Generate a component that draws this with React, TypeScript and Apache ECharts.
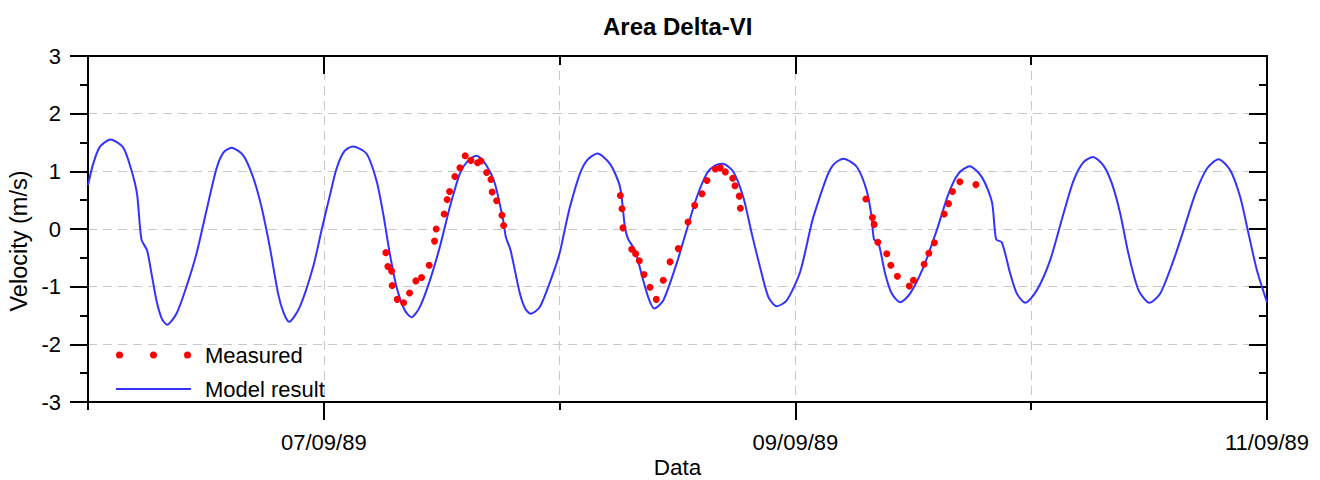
import React, { useEffect, useRef } from "react";
import * as echarts from "echarts";

// Hours since 06/09/89 00:00
const modelHours = [0.0, 0.51, 1.19, 2.28, 3.56, 4.42, 4.99, 5.44, 6.01, 6.46, 6.97, 7.5, 8.04, 9.0, 10.02, 11.04, 12.06, 13.08, 13.8, 14.6, 15.78, 16.8, 17.66, 18.5, 19.35, 19.9, 20.47, 21.56, 22.91, 23.8, 24.6, 25.3, 26.1, 26.93, 28.34, 29.36, 30.04, 30.72, 31.4, 32.24, 32.93, 33.78, 34.8, 35.81, 36.83, 37.85, 38.69, 39.54, 40.56, 41.41, 42.26, 42.53, 43.01, 43.96, 44.5, 45.05, 46.0, 47.34, 48.03, 48.54, 49.05, 50.07, 50.83, 51.84, 53.13, 54.15, 54.65, 54.99, 55.67, 56.51, 57.1, 57.63, 58.55, 59.91, 60.93, 61.96, 62.97, 63.8, 64.6, 65.69, 66.7, 67.56, 68.4, 69.25, 70.09, 71.11, 72.47, 73.49, 73.83, 75.19, 75.9, 76.88, 78.24, 79.25, 79.76, 80.0, 80.44, 81.13, 81.81, 82.66, 83.67, 85.03, 86.39, 87.58, 88.6, 89.72, 90.98, 92.0, 92.43, 93.01, 93.86, 94.54, 95.39, 96.58, 97.93, 99.29, 100.31, 101.32, 102.28, 103.36, 104.21, 105.06, 105.9, 106.92, 108.04, 109.13, 110.49, 111.51, 112.7, 113.89, 115.07, 116.26, 117.28, 118.12, 118.98, 120.0];
const modelValues = [0.76, 1.12, 1.42, 1.55, 1.42, 1.02, 0.61, -0.18, -0.37, -0.77, -1.24, -1.55, -1.66, -1.47, -1.0, -0.43, 0.32, 1.05, 1.33, 1.41, 1.28, 0.9, 0.38, -0.31, -1.12, -1.45, -1.61, -1.35, -0.66, 0.0, 0.57, 1.05, 1.35, 1.43, 1.31, 0.84, 0.27, -0.43, -1.0, -1.41, -1.53, -1.35, -0.89, -0.31, 0.38, 0.96, 1.19, 1.27, 1.1, 0.79, 0.15, -0.14, -0.37, -1.12, -1.38, -1.47, -1.35, -0.77, -0.4, 0.0, 0.38, 0.96, 1.2, 1.31, 1.13, 0.73, 0.03, -0.18, -0.37, -0.89, -1.22, -1.38, -1.24, -0.6, -0.02, 0.55, 0.96, 1.1, 1.13, 0.99, 0.55, -0.08, -0.66, -1.18, -1.34, -1.24, -0.75, -0.02, 0.21, 0.9, 1.12, 1.22, 1.08, 0.67, 0.21, -0.18, -0.23, -0.77, -1.12, -1.27, -1.12, -0.66, -0.02, 0.61, 0.96, 1.09, 0.9, 0.47, -0.18, -0.23, -0.77, -1.12, -1.28, -1.06, -0.54, 0.27, 0.84, 1.16, 1.25, 1.1, 0.79, 0.27, -0.43, -1.06, -1.28, -1.12, -0.54, -0.02, 0.61, 1.05, 1.21, 1.02, 0.55, -0.08, -0.72, -1.27];

const measuredHours = [30.32, 30.52, 30.9, 30.96, 31.47, 32.12, 32.73, 33.37, 33.95, 34.73, 35.27, 35.44, 36.25, 36.56, 36.8, 37.34, 37.85, 38.39, 38.97, 39.65, 39.99, 40.57, 41.01, 41.14, 41.59, 42.13, 42.3, 54.18, 54.35, 54.45, 55.34, 55.74, 56.11, 56.59, 57.2, 57.84, 58.55, 59.24, 60.08, 61.07, 61.75, 62.5, 63.0, 63.85, 64.36, 64.87, 65.62, 65.85, 66.29, 66.4, 79.17, 79.84, 80.01, 80.39, 81.3, 81.71, 82.38, 83.6, 84.01, 85.1, 85.58, 86.15, 87.14, 87.58, 87.99, 88.74, 90.37];
const measuredValues = [-0.41, -0.65, -0.73, -0.98, -1.22, -1.28, -1.11, -0.9, -0.84, -0.63, -0.21, 0.0, 0.26, 0.51, 0.65, 0.91, 1.06, 1.27, 1.19, 1.15, 1.18, 0.98, 0.86, 0.64, 0.49, 0.24, 0.06, 0.58, 0.35, 0.02, -0.35, -0.43, -0.55, -0.79, -1.01, -1.22, -0.89, -0.57, -0.34, 0.12, 0.41, 0.61, 0.84, 1.04, 1.06, 0.99, 0.88, 0.75, 0.57, 0.36, 0.52, 0.2, 0.08, -0.23, -0.43, -0.63, -0.82, -0.99, -0.89, -0.61, -0.42, -0.24, 0.26, 0.44, 0.65, 0.82, 0.77];

const labelHours = [24, 72, 120];
const labelTexts = ["07/09/89", "09/09/89", "11/09/89"];
const minorHours = [0, 48, 96];

const FONT = "'Liberation Sans', Arial, sans-serif";
const GRID_LINE = { show: true, lineStyle: { color: "#c8c8c8", type: [9, 6] as any, width: 1 } };
const AXIS_LINE = { show: true, onZero: false, lineStyle: { color: "#000", width: 2 } };

const dotsIcon =
  "path://M0,3.5a3.5,3.5 0 1,0 7,0a3.5,3.5 0 1,0 -7,0Z M34,3.5a3.5,3.5 0 1,0 7,0a3.5,3.5 0 1,0 -7,0Z M68,3.5a3.5,3.5 0 1,0 7,0a3.5,3.5 0 1,0 -7,0Z";
const lineIcon = "path://M0,0L70,0L70,2L0,2Z";

export default function App() {
  const ref = useRef<HTMLDivElement>(null);
  useEffect(() => {
    if (!ref.current) return;
    const chart = echarts.init(ref.current, undefined, { renderer: "svg" });
    const model = modelHours.map((h, i) => [h, modelValues[i]]);
    const measured = measuredHours.map((h, i) => [h, measuredValues[i]]);
    const baseX = { type: "value", min: 0, max: 120, interval: 24, gridIndex: 0 };
    chart.setOption({
      animation: false,
      backgroundColor: "#fff",
      title: {
        text: "Area Delta-VI",
        left: 603,
        top: 14,
        padding: 0,
        textStyle: { fontFamily: FONT, fontSize: 24, fontWeight: "bold", color: "#000" },
      },
      grid: { left: 88, right: 53, top: 56, bottom: 78, containLabel: false, outerBoundsMode: "none" },
      legend: {
        orient: "vertical",
        left: 111,
        top: 338,
        itemWidth: 75,
        itemHeight: 7,
        itemGap: 10,
        itemStyle: { borderWidth: 0 },
        textStyle: { fontFamily: FONT, fontSize: 22, color: "#000", lineHeight: 24, padding: [0, 0, 0, 9] },
        data: [
          { name: "Measured", icon: dotsIcon },
          { name: "Model result", icon: lineIcon },
        ],
      },
      xAxis: [
        {
          ...baseX,
          position: "bottom",
          axisLine: AXIS_LINE,
          axisTick: { show: true, customValues: labelHours, length: 18, inside: false, lineStyle: { color: "#000", width: 2 } },
          axisLabel: {
            show: true,
            customValues: labelHours,
            margin: 29,
            fontFamily: FONT,
            fontSize: 22,
            color: "#000",
            formatter: (v: number) => {
              const idx = labelHours.indexOf(Math.round(v));
              return idx >= 0 ? labelTexts[idx] : "";
            },
          },
          splitLine: GRID_LINE,
          name: "Data",
          nameLocation: "middle",
          nameGap: 55,
          nameMoveOverlap: false,
          nameTextStyle: { fontFamily: FONT, fontSize: 22.5, color: "#000", lineHeight: 20 },
        },
        {
          ...baseX,
          position: "bottom",
          axisLine: { show: false, onZero: false },
          axisTick: { show: true, customValues: minorHours, length: 8, inside: false, lineStyle: { color: "#000", width: 2 } },
          axisLabel: { show: false },
          splitLine: GRID_LINE,
        },
        {
          ...baseX,
          position: "top",
          axisLine: AXIS_LINE,
          axisTick: { show: true, customValues: labelHours, length: 18, inside: true, lineStyle: { color: "#000", width: 2 } },
          axisLabel: { show: false },
          splitLine: { show: false },
        },
        {
          ...baseX,
          position: "top",
          axisLine: { show: false, onZero: false },
          axisTick: { show: true, customValues: minorHours, length: 9, inside: true, lineStyle: { color: "#000", width: 2 } },
          axisLabel: { show: false },
          splitLine: { show: false },
        },
      ],
      yAxis: [
        {
          type: "value",
          min: -3,
          max: 3,
          interval: 1,
          position: "left",
          axisLine: AXIS_LINE,
          axisTick: { show: true, length: 18, inside: false, lineStyle: { color: "#000", width: 2 } },
          minorTick: { show: true, splitNumber: 2, length: 8, lineStyle: { color: "#000", width: 2 } },
          axisLabel: { margin: 27, fontFamily: FONT, fontSize: 22, color: "#000" },
          splitLine: GRID_LINE,
          name: "Velocity (m/s)",
          nameLocation: "middle",
          nameGap: 55,
          nameRotate: 90,
          nameTextStyle: { fontFamily: FONT, fontSize: 23.5, color: "#000", padding: [0, 24, 0, 0] },
        },
        {
          type: "value",
          min: -3,
          max: 3,
          interval: 1,
          position: "right",
          axisLine: AXIS_LINE,
          axisTick: { show: true, length: 18, inside: true, lineStyle: { color: "#000", width: 2 } },
          minorTick: { show: true, splitNumber: 2, length: 8, lineStyle: { color: "#000", width: 2 } },
          axisLabel: { show: false },
          splitLine: { show: false },
        },
      ],
      series: [
        {
          name: "Model result",
          type: "line",
          xAxisIndex: 0,
          yAxisIndex: 0,
          data: model,
          showSymbol: false,
          symbol: "none",
          smooth: 0.25,
          color: "#3333ff",
          itemStyle: { color: "#3333ff" },
          lineStyle: { color: "#3333ff", width: 2 },
          z: 2,
        },
        {
          name: "Measured",
          type: "scatter",
          xAxisIndex: 0,
          yAxisIndex: 0,
          data: measured,
          symbol: "circle",
          symbolSize: 7,
          color: "#ff0000",
          itemStyle: { color: "#ff0000", opacity: 1 },
          z: 3,
        },
      ],
    });
    return () => chart.dispose();
  }, []);
  return <div ref={ref} style={{ position: "fixed", left: 0, top: 0, width: 1320, height: 480 }} />;
}
